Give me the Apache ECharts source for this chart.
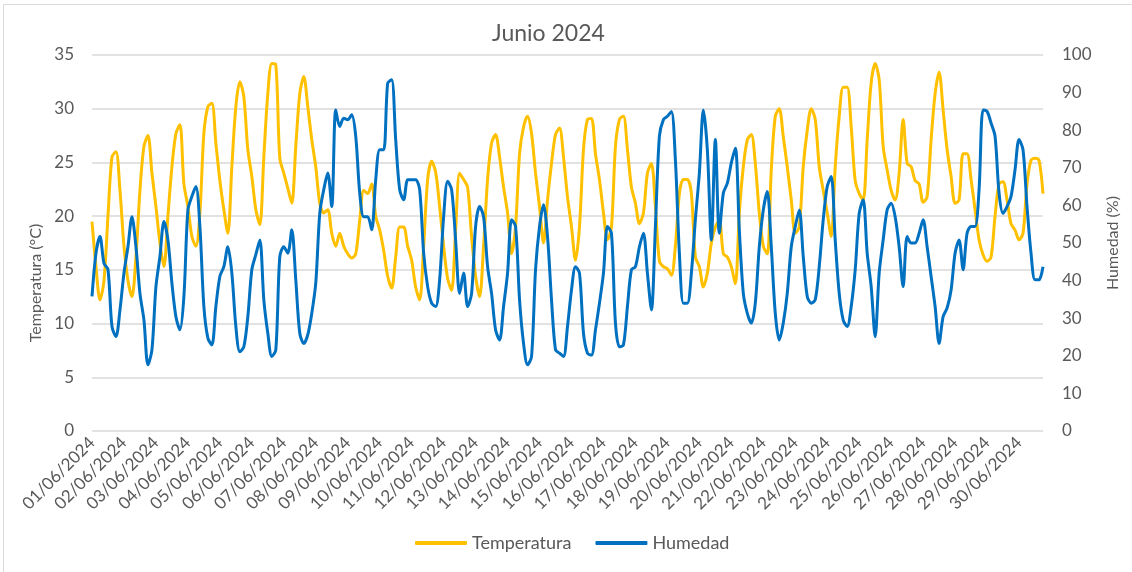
<!DOCTYPE html>
<html>
<head>
<meta charset="utf-8">
<script src="https://cdn.jsdelivr.net/npm/echarts@6/dist/echarts.min.js"></script>
<style>
  html, body { margin: 0; padding: 0; background: #fff; }
  #main { width: 1132px; height: 572px; }
</style>
</head>
<body>
<div id="main"></div>
<script>
// dias del mes (etiquetas del eje x) y horas de cada lectura
var dias = ['01/06/2024','02/06/2024','03/06/2024','04/06/2024','05/06/2024','06/06/2024',
  '07/06/2024','08/06/2024','09/06/2024','10/06/2024','11/06/2024','12/06/2024',
  '13/06/2024','14/06/2024','15/06/2024','16/06/2024','17/06/2024','18/06/2024',
  '19/06/2024','20/06/2024','21/06/2024','22/06/2024','23/06/2024','24/06/2024',
  '25/06/2024','26/06/2024','27/06/2024','28/06/2024','29/06/2024','30/06/2024'];
var horas = ['00:00','03:00','06:00','09:00','12:00','15:00','18:00','21:00'];

// temperatura (°C), cada 3 horas
var temperatura = [
  19.5, 15.3, 12.2, 14.0, 20.0, 25.5, 26.0, 22.4,
  17.2, 14.0, 12.5, 16.2, 22.4, 26.5, 27.5, 24.0,
  20.9, 17.5, 15.3, 20.0, 24.6, 27.7, 28.5, 23.0,
  20.9, 18.1, 17.2, 20.3, 27.7, 30.2, 30.5, 26.8,
  23.3, 20.6, 18.4, 24.6, 30.2, 32.5, 31.1, 26.2,
  23.7, 20.6, 19.2, 25.5, 31.4, 34.2, 34.1, 25.4,
  24.0, 22.6, 21.2, 26.5, 31.4, 33.0, 30.2, 27.1,
  24.6, 21.2, 20.3, 20.6, 18.4, 17.2, 18.4, 17.2,
  16.5, 16.1, 16.5, 19.6, 22.4, 22.1, 23.0, 20.0,
  18.7, 16.8, 14.4, 13.3, 16.2, 19.0, 19.0, 17.2,
  15.9, 13.4, 12.2, 17.2, 23.4, 25.1, 24.1, 20.9,
  17.2, 14.2, 13.1, 18.7, 24.0, 23.4, 22.7, 18.1,
  14.4, 12.5, 17.2, 23.4, 26.8, 27.6, 25.5, 22.7,
  20.3, 16.5, 19.0, 25.8, 28.3, 29.3, 27.7, 24.0,
  20.9, 17.5, 21.5, 24.9, 27.6, 28.2, 25.5, 21.8,
  19.0, 15.9, 19.0, 26.2, 29.0, 29.1, 25.8, 23.4,
  20.3, 17.8, 19.0, 26.5, 29.0, 29.3, 26.2, 22.7,
  21.2, 19.3, 20.3, 24.0, 24.9, 20.9, 15.8, 15.3,
  15.1, 14.5, 17.2, 22.1, 23.4, 23.4, 22.1, 16.2,
  15.3, 13.4, 14.7, 17.5, 19.0, 19.6, 16.5, 16.2,
  15.3, 13.7, 20.3, 24.6, 27.1, 27.6, 24.9, 20.3,
  17.2, 16.5, 24.3, 29.3, 30.0, 27.4, 24.6, 21.5,
  18.4, 19.0, 24.6, 28.0, 30.0, 29.0, 24.6, 22.4,
  20.3, 18.1, 24.6, 29.3, 32.0, 32.0, 28.3, 23.3,
  22.1, 21.5, 27.1, 32.4, 34.2, 32.7, 26.5, 24.3,
  22.4, 21.5, 24.0, 29.0, 24.9, 24.6, 23.3, 23.0,
  21.3, 21.8, 27.1, 31.4, 33.4, 29.9, 26.2, 23.7,
  21.2, 21.5, 25.8, 25.8, 23.4, 20.6, 17.8, 16.4,
  15.8, 16.2, 20.0, 23.0, 23.2, 21.5, 19.3, 18.7,
  17.8, 18.4, 23.0, 25.2, 25.4, 25.2, 22.1
];

// humedad (%), cada 3 horas
var humedad = [
  35.8, 47.3, 51.7, 44.6, 42.9, 27.8, 25.1, 32.2,
  42.0, 49.0, 57.0, 49.0, 36.6, 29.5, 17.6, 21.6,
  38.4, 46.4, 55.7, 50.8, 39.3, 30.4, 26.9, 35.8,
  58.8, 62.4, 65.0, 54.4, 33.1, 24.7, 22.9, 33.1,
  41.1, 43.7, 49.0, 42.0, 27.8, 21.1, 22.4, 30.4,
  42.9, 46.9, 50.8, 34.9, 26.0, 19.8, 21.6, 46.4,
  49.0, 47.3, 53.5, 40.2, 26.0, 23.3, 25.6, 31.3,
  39.3, 57.9, 64.2, 68.6, 59.7, 85.4, 81.0, 83.2,
  82.8, 84.1, 78.4, 63.3, 57.0, 57.0, 53.5, 66.8,
  74.8, 74.8, 92.5, 93.4, 77.5, 64.2, 61.5, 66.8,
  66.8, 66.8, 64.2, 47.3, 38.4, 34.0, 33.1, 40.2,
  57.0, 66.4, 64.2, 50.8, 36.6, 42.0, 33.1, 36.6,
  54.4, 59.7, 57.0, 43.7, 36.6, 26.9, 24.2, 33.1,
  42.0, 56.2, 54.4, 34.9, 23.3, 17.6, 19.8, 42.9,
  54.4, 60.2, 51.7, 34.9, 21.6, 20.7, 19.8, 27.8,
  37.5, 43.7, 42.0, 26.0, 20.7, 20.2, 26.9, 34.0,
  42.0, 54.4, 52.6, 28.7, 22.4, 22.9, 33.1, 42.9,
  43.7, 49.0, 52.6, 42.0, 32.2, 54.4, 78.4, 82.8,
  83.7, 85.0, 72.1, 47.3, 34.0, 34.0, 42.0, 56.2,
  68.6, 85.4, 74.8, 50.8, 77.5, 52.6, 63.3, 65.9,
  71.3, 75.2, 53.5, 36.6, 31.3, 28.7, 34.0, 49.0,
  58.8, 63.7, 49.0, 31.3, 24.2, 28.7, 36.6, 49.0,
  54.4, 58.8, 46.4, 35.8, 34.0, 34.9, 43.7, 56.2,
  65.0, 67.7, 50.8, 36.6, 29.5, 27.8, 33.1, 42.9,
  57.9, 61.5, 47.3, 38.4, 25.1, 42.0, 50.8, 58.8,
  60.6, 57.0, 49.0, 38.4, 51.7, 50.0, 50.0, 52.6,
  56.2, 49.0, 41.1, 33.1, 23.3, 30.4, 32.7, 37.5,
  47.3, 50.8, 42.9, 52.6, 54.4, 54.4, 64.2, 85.4,
  85.0, 81.9, 78.4, 63.3, 57.9, 59.7, 62.4, 69.5,
  77.5, 74.8, 59.7, 47.3, 40.2, 40.2, 43.7
];

// categorias: una por lectura ("dd/mm/aaaa hh:mm")
var categorias = [];
dias.forEach(function (d) {
  horas.forEach(function (h) {
    if (categorias.length < temperatura.length) categorias.push(d + ' ' + h);
  });
});

var gris = '#595959';
var fuente = 'Lato, "Open Sans", sans-serif';

var chartDom = document.getElementById('main');
var myChart = echarts.init(chartDom);
var option = {
  animation: false,
  textStyle: { fontFamily: fuente },
  graphic: [{
    type: 'rect',
    shape: { x: 3.5, y: 4.5, width: 1140, height: 580 },
    style: { fill: 'none', stroke: '#d9d9d9', lineWidth: 1 },
    silent: true
  }],
  title: {
    text: 'Junio 2024',
    left: 492,
    top: 22,
    padding: 0,
    textStyle: { fontFamily: fuente, fontSize: 23, fontWeight: 'normal', color: gris }
  },
  legend: {
    left: 410,
    top: 529,
    itemWidth: 52,
    itemHeight: 4,
    itemGap: 24,
    icon: 'roundRect',
    textStyle: { fontFamily: fuente, fontSize: 18, color: gris },
    data: ['Temperatura', 'Humedad']
  },
  grid: { left: 92, right: 89, top: 55, bottom: 141, containLabel: false },
  xAxis: {
    type: 'category',
    boundaryGap: false,
    data: categorias,
    axisLine: { show: false },
    axisTick: { show: false },
    axisLabel: {
      interval: 7,
      rotate: 45,
      margin: 9,
      fontFamily: fuente,
      fontSize: 17,
      color: gris,
      formatter: function (v) { return v.split(' ')[0]; }
    }
  },
  yAxis: [{
    type: 'value',
    min: 0, max: 35, interval: 5,
    name: 'Temperatura (°C)',
    nameLocation: 'middle',
    nameGap: 48,
    nameTextStyle: { fontFamily: fuente, fontSize: 16, color: gris, padding: [0, 80, 0, 0] },
    axisLine: { show: false },
    axisTick: { show: false },
    axisLabel: { margin: 18, fontFamily: fuente, fontSize: 17, color: gris },
    splitLine: { lineStyle: { color: '#d9d9d9', width: 1.5 } }
  }, {
    type: 'value',
    min: 0, max: 100, interval: 10,
    name: 'Humedad (%)',
    nameLocation: 'middle',
    nameGap: 62,
    nameTextStyle: { fontFamily: fuente, fontSize: 16, color: gris },
    axisLine: { show: false },
    axisTick: { show: false },
    axisLabel: { margin: 19, fontFamily: fuente, fontSize: 17, color: gris },
    splitLine: { show: false }
  }],
  series: [{
    name: 'Temperatura',
    type: 'line',
    yAxisIndex: 0,
    data: temperatura,
    symbol: 'none',
    smooth: 0.3,
    lineStyle: { color: '#FFC000', width: 3 },
    itemStyle: { color: '#FFC000' }
  }, {
    name: 'Humedad',
    type: 'line',
    yAxisIndex: 1,
    data: humedad,
    symbol: 'none',
    smooth: 0.3,
    lineStyle: { color: '#0070C0', width: 3 },
    itemStyle: { color: '#0070C0' }
  }]
};
myChart.setOption(option);
</script>
</body>
</html>
